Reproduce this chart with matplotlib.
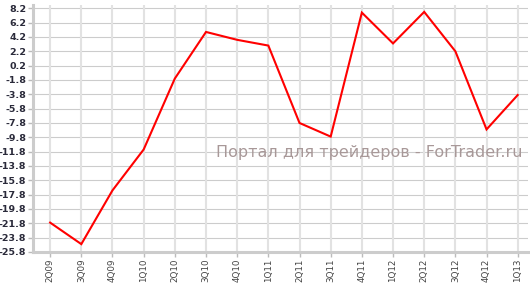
import matplotlib
matplotlib.use("Agg")
import matplotlib.pyplot as plt
import numpy as np

quarters = ["2Q09", "3Q09", "4Q09", "1Q10", "2Q10", "3Q10", "4Q10", "1Q11",
            "2Q11", "3Q11", "4Q11", "1Q12", "2Q12", "3Q12", "4Q12", "1Q13"]
values = [-21.7, -24.7, -17.2, -11.5, -1.6, 4.9, 3.8, 3.0,
          -7.8, -9.7, 7.6, 3.3, 7.7, 2.2, -8.7, -3.9]
ytick_values = [8.2, 6.2, 4.2, 2.2, 0.2, -1.8, -3.8, -5.8, -7.8, -9.8, -11.8,
                -13.8, -15.8, -17.8, -19.8, -21.8, -23.8, -25.8]
watermark = "Портал для трейдеров - ForTrader.ru"

fig = plt.figure(figsize=(5.3, 2.83), dpi=100)
ax = fig.add_axes([33/530, 1-252/283, (528-33)/530, (252-5)/283])

x = np.arange(len(quarters))
ax.plot(x, values, color="#ff0000", lw=1.5, zorder=3, solid_joinstyle="miter")

ax.set_xlim(-0.55, len(quarters) - 1 + 0.33)
ax.set_ylim(-25.8, 8.66)

ax.set_yticks(ytick_values)
ax.set_yticklabels([f"{v:.1f}" for v in ytick_values], fontsize=6.8,
                   color="#2a2a3a", fontweight="bold", family="DejaVu Sans")
ax.set_xticks(x)
ax.set_xticklabels(quarters, rotation=90, fontsize=6.3, color="#444444",
                   family="DejaVu Sans")

for v in ytick_values:
    ax.axhline(v, color="#cccccc", lw=0.8, zorder=1)
for xi in x:
    ax.axvline(xi, color="#e2e2e2", lw=1.5, zorder=1)

for s in ["top", "right"]:
    ax.spines[s].set_visible(False)
for s in ["left", "bottom"]:
    ax.spines[s].set_color("#cccccc")
    ax.spines[s].set_linewidth(2.2)

ax.tick_params(axis="y", length=3.5, width=1, color="#bbbbbb", pad=1.2)
ax.tick_params(axis="x", length=3.5, width=1, color="#bbbbbb", pad=1.2)

fig.text(369/530, 1-153/283, watermark, ha="center", va="center",
         fontsize=11.5, color="#a89898", family="DejaVu Sans")

fig.savefig("out.png", dpi=100)
